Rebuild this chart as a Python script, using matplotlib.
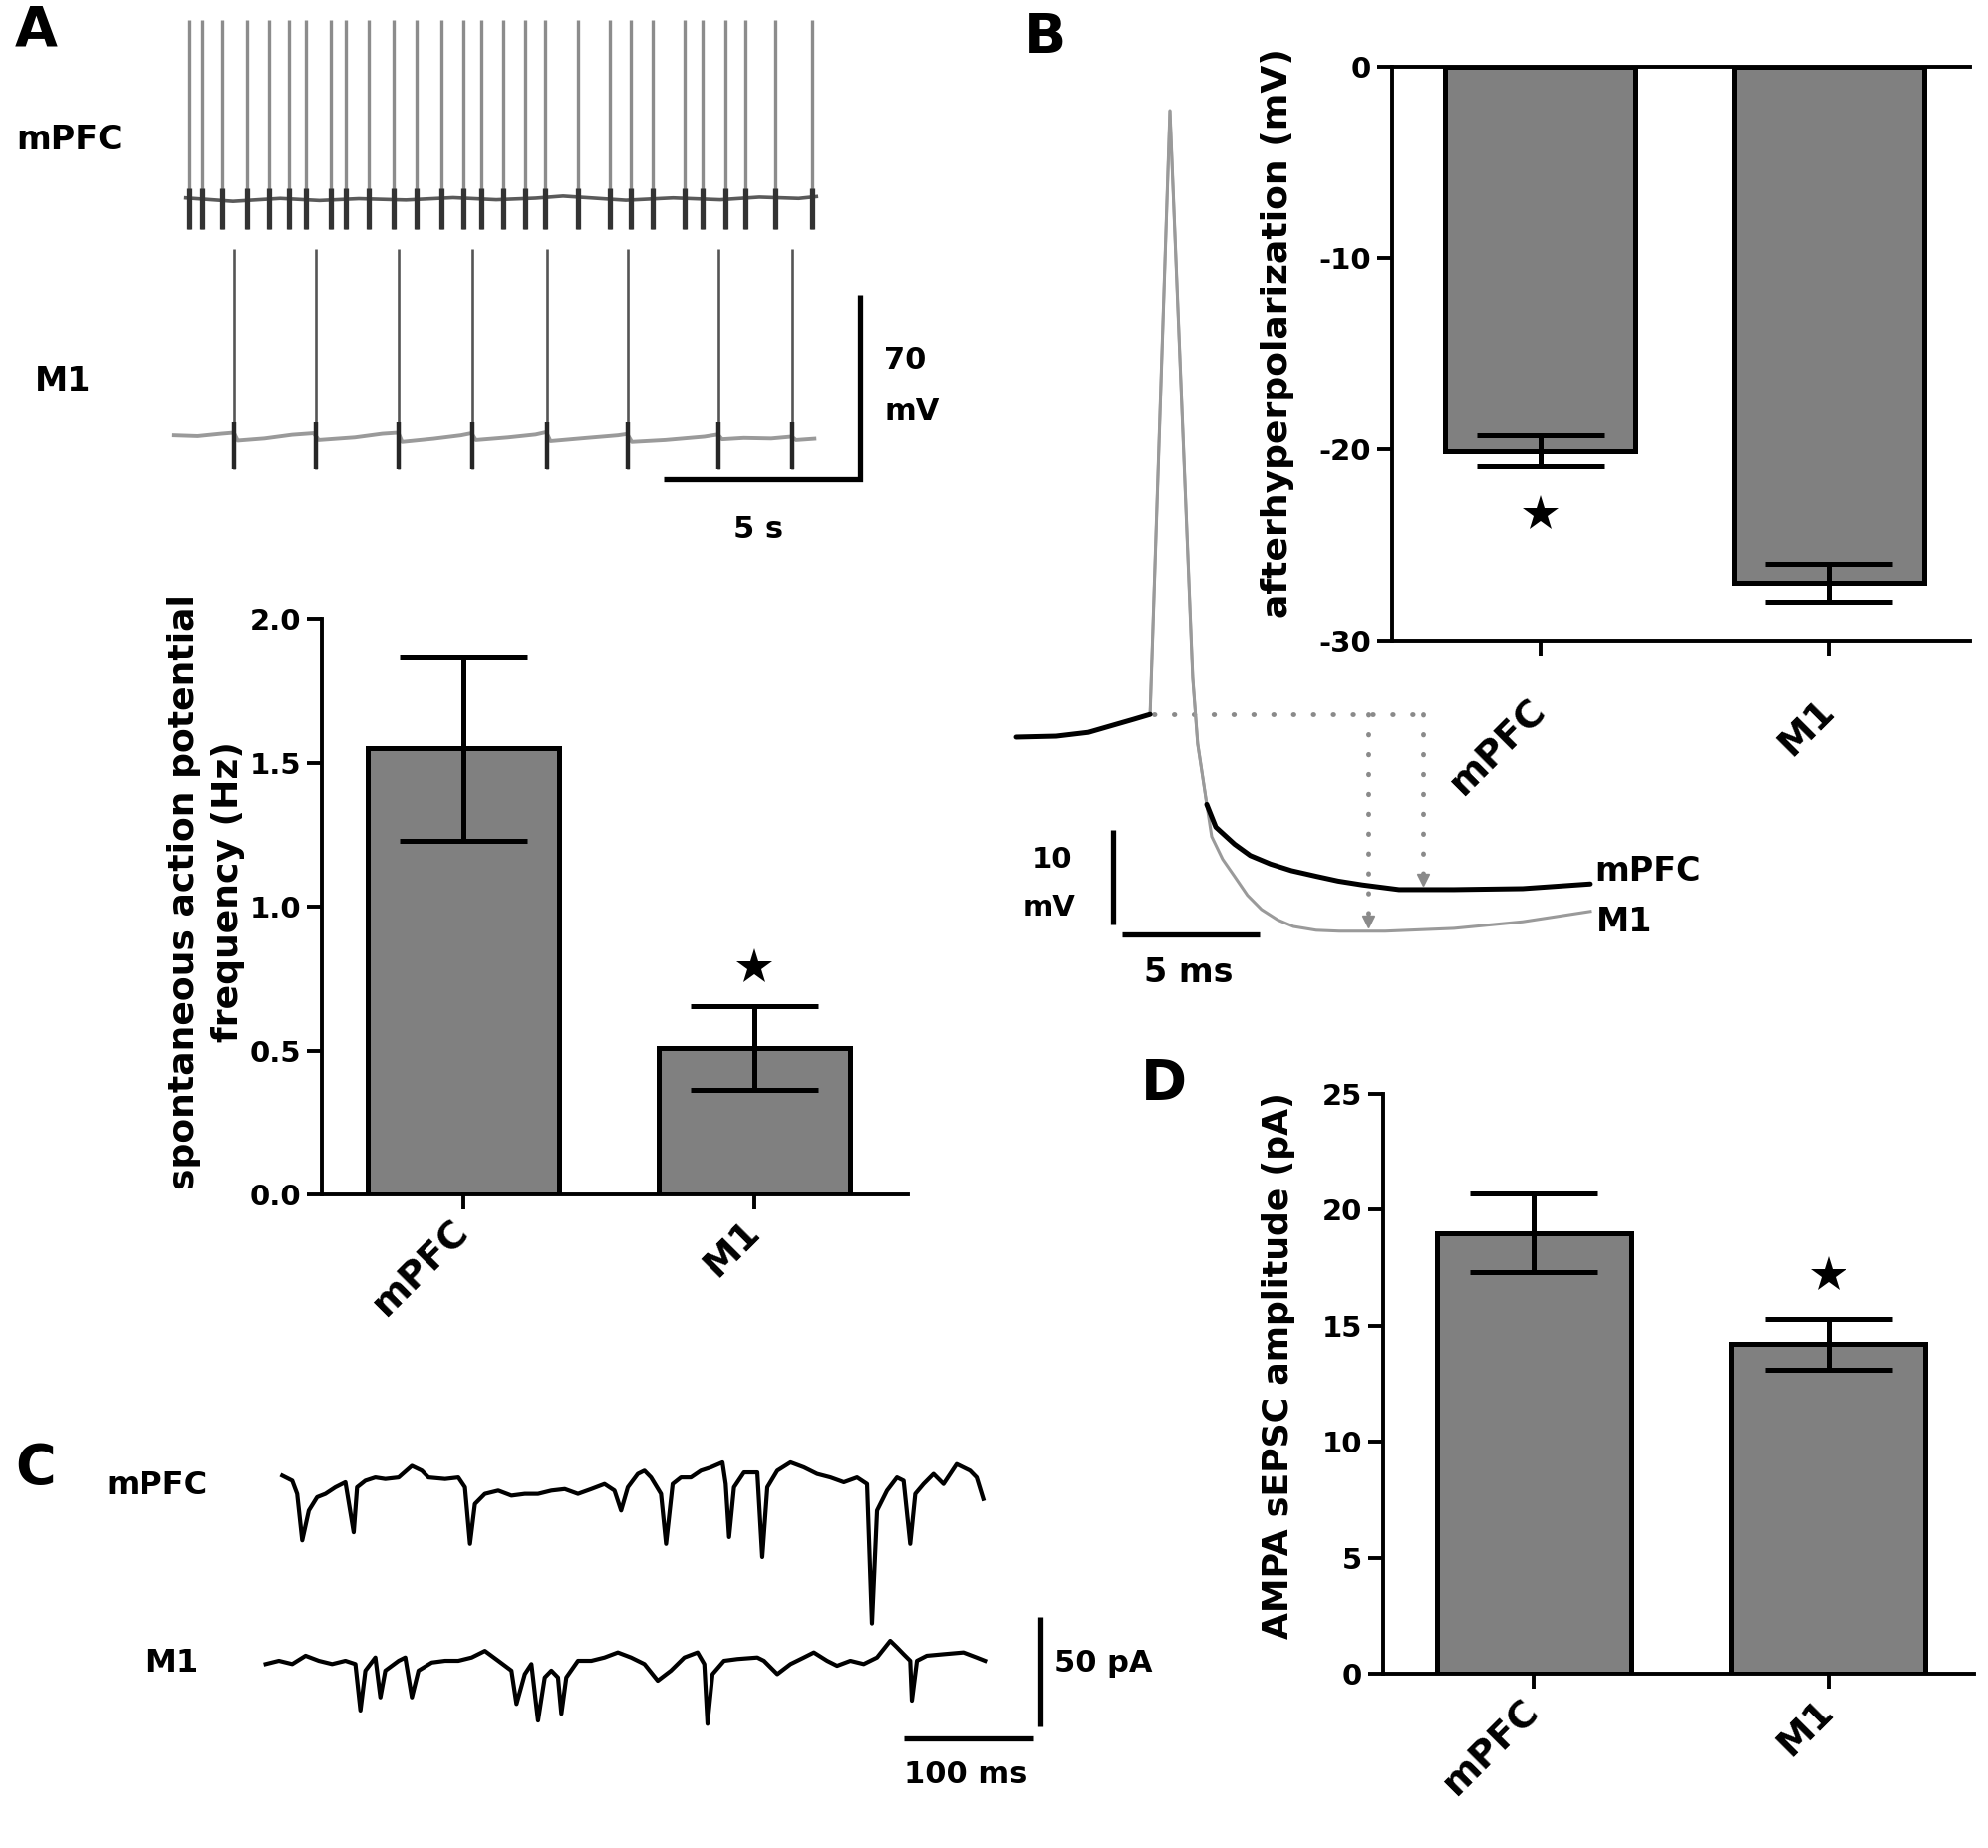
import matplotlib
matplotlib.use("Agg")
import matplotlib.pyplot as plt

W, H = 1995, 1855
DPI = 100
plt.rcParams['font.family'] = ['DejaVu Sans']
plt.rcParams['font.weight'] = 'bold'
plt.rcParams['axes.unicode_minus'] = False

# ---------------------------------------------------------------- data
groups = ["mPFC", "M1"]
bar_x = [0, 1]

# Panel A bar chart: spontaneous AP frequency (Hz)
freq_mean = [1.55, 0.51]
freq_sem = [0.32, 0.145]
freq_ticks = [0.0, 0.5, 1.0, 1.5, 2.0]
freq_ticklabels = ["0.0", "0.5", "1.0", "1.5", "2.0"]
freq_star = 0.79

# Panel B bar chart: afterhyperpolarization (mV)
ahp_mean = [-20.1, -27.0]
ahp_sem = [0.8, 1.0]
ahp_ticks = [0, -10, -20, -30]
ahp_ticklabels = ["0", "-10", "-20", "-30"]
ahp_star = -23.4

# Panel D bar chart: AMPA sEPSC amplitude (pA)
ampa_mean = [19.0, 14.2]
ampa_sem = [1.7, 1.1]
ampa_ticks = [0, 5, 10, 15, 20, 25]
ampa_ticklabels = ["0", "5", "10", "15", "20", "25"]
ampa_star = 17.2

# Panel A traces (time in s, voltage in mV relative to baseline)
mpfc_spike_t = [0.38, 0.71, 1.22, 1.85, 2.41, 2.92, 3.35, 3.98, 4.37, 4.95,
                5.58, 6.17, 6.80, 7.36, 7.82, 8.38, 8.93, 9.44, 10.28, 11.09,
                11.62, 12.18, 12.99, 13.45, 14.04, 14.54, 15.30, 16.24]
mpfc_spike_peak = 68.0
mpfc_spike_trough = -11.3
mpfc_base_t = [0.30, 1.5, 2.7, 3.7, 4.7, 5.9, 7.1, 8.2, 9.2, 9.9, 10.8,
               11.5, 12.7, 13.9, 14.9, 15.9, 16.35]
mpfc_base_v = [0.5, -0.8, 0.3, -0.5, 0.2, -0.3, 0.6, -0.2, 0.4, 1.2, 0.3,
               -0.4, 0.5, -0.2, 0.8, 0.3, 1.0]

m1_spike_t = [1.52, 3.60, 5.71, 7.59, 9.49, 11.55, 13.86, 15.74]
m1_spike_peak = 70.7
m1_spike_trough = -12.9
m1_base_t = [0.0, 0.6, 1.2, 1.52, 1.62, 2.3, 3.0, 3.55, 3.68, 4.6, 5.3, 5.70,
             5.80, 6.6, 7.3, 7.57, 7.68, 8.5, 9.2, 9.47, 9.58, 10.5, 11.3,
             11.53, 11.65, 12.5, 13.5, 13.84, 13.95, 14.5, 15.2, 15.72, 15.83,
             16.3]
m1_base_v = [0.0, -0.3, 0.6, 1.0, -2.0, -1.2, 0.2, 0.8, -1.8, -0.8, 0.6, 1.0,
             -2.5, -1.3, 0.0, 0.8, -1.8, -0.8, 0.3, 1.2, -2.2, -1.0, 0.0,
             0.5, -2.5, -1.8, -0.5, 0.3, -1.5, -1.0, -1.2, -0.5, -1.8, -1.3]

# Panel B traces (time in ms, voltage in mV relative to baseline)
ap_mpfc_t = [0.0, 1.45, 2.61, 4.28, 4.86, 5.58, 6.41, 6.59, 6.92, 7.25, 7.93,
             8.5, 9.24, 10.0, 10.91, 11.7, 12.57, 13.91, 15.91, 18.41, 20.87]
ap_mpfc_v = [0.0, 0.1, 0.5, 1.9, 2.4, 66.2, 6.3, -0.7, -7.1, -9.5, -11.3,
             -12.5, -13.4, -14.1, -14.7, -15.2, -15.6, -16.1, -16.1, -16.0,
             -15.5]
ap_m1_t = [4.86, 5.58, 6.41, 6.59, 6.92, 7.10, 7.5, 7.93, 8.4, 8.91, 9.5,
           10.07, 10.9, 11.74, 13.41, 15.91, 18.41, 20.87]
ap_m1_v = [2.4, 66.2, 6.3, -0.7, -7.1, -10.5, -12.9, -14.7, -16.7, -18.2,
           -19.3, -20.0, -20.4, -20.5, -20.5, -20.2, -19.5, -18.4]
ap_threshold = 2.45
ap_threshold_t = 5.0
ap_m1_min_t, ap_m1_min_v = 12.8, -20.5
ap_mpfc_min_t, ap_mpfc_min_v = 14.8, -16.1

# Panel C traces (time in ms, current in pA relative to baseline)
c_mpfc_t = [6.4, 14.1, 17.9, 21.8, 26.9, 33.3, 39.7, 47.4, 55.1, 61.5, 64.1,
            70.5, 78.2, 85.9, 96.2, 106.4, 114.1, 119.2, 132.1, 142.3, 147.4,
            151.3, 155.1, 162.8, 173.1, 183.3, 193.6, 203.8, 214.1, 224.4,
            234.6, 244.9, 255.1, 262.8, 267.9, 273.1, 280.8, 285.9, 291.0,
            298.7, 302.6, 307.7, 314.1, 321.8, 329.5, 337.2, 346.2, 348.7,
            351.3, 355.1, 362.8, 373.1, 376.9, 380.8, 388.5, 398.7, 409.0,
            419.2, 429.5, 439.8, 450.0, 457.7, 461.5, 465.4, 473.1, 480.8,
            485.9, 491.0, 494.9, 501.3, 509.0, 516.7, 526.9, 537.2, 542.3,
            547.4]
c_mpfc_i = [5.3, 3.0, -3.0, -24.2, -10.6, -4.5, -3.0, 0.0, 2.3, -20.5, 0.0,
            3.0, 4.5, 3.8, 4.5, 9.8, 7.6, 4.5, 3.8, 4.5, 0.0, -25.8, -7.6,
            -3.0, -1.5, -3.8, -3.0, -3.0, -1.5, -0.8, -3.0, -0.8, 1.5, -1.5,
            -10.6, 0.0, 6.1, 7.6, 4.5, -3.0, -25.8, 1.5, 4.5, 4.5, 7.6, 9.1,
            11.4, 1.5, -22.7, 0.0, 6.8, 6.8, -31.8, 0.0, 7.6, 11.4, 9.1, 6.1,
            4.5, 2.3, 4.5, 1.5, -62.1, -10.6, -1.5, 4.5, 3.0, -25.8, -3.0,
            1.5, 6.1, 1.5, 10.6, 7.6, 4.5, -5.3]
c_m1_t = [-6.4, 3.8, 14.1, 24.4, 34.6, 44.9, 55.1, 62.8, 66.7, 70.5, 78.2,
          82.1, 85.9, 96.2, 101.3, 106.4, 111.5, 121.8, 132.1, 142.3, 152.6,
          162.8, 173.1, 183.3, 187.2, 193.6, 198.7, 203.8, 209.0, 214.1,
          219.2, 221.8, 225.6, 234.6, 244.9, 255.1, 265.4, 275.6, 285.9,
          296.2, 306.4, 316.7, 326.9, 332.1, 334.6, 338.5, 347.4, 357.7,
          373.1, 378.2, 388.5, 398.7, 409.0, 416.7, 426.9, 434.6, 444.9,
          455.1, 465.4, 475.6, 480.8, 485.9, 491.0, 492.3, 496.2, 503.8,
          516.7, 532.1, 542.3, 548.7]
c_m1_i = [-1.5, 0.0, -1.5, 2.3, 0.0, -1.5, 0.0, -1.5, -22.7, -4.5, 1.5,
          -16.7, -4.5, 0.0, 1.5, -16.7, -4.5, -0.8, 0.0, 0.0, 1.5, 4.5, 0.0,
          -4.5, -19.7, -6.1, -1.5, -27.3, -7.6, -4.5, -7.6, -24.2, -7.6, 0.0,
          0.0, 1.5, 3.8, 1.5, -1.5, -9.1, -4.5, 1.5, 3.8, -1.5, -28.8, -6.1,
          0.0, 0.8, 1.5, 0.0, -6.1, -1.5, 1.5, 3.8, 0.0, -2.3, 0.0, -1.5, 1.5,
          9.1, 6.1, 3.0, 0.0, -18.2, 0.0, 2.3, 3.0, 3.8, 1.5, 0.0]

# ---------------------------------------------------------------- layout helpers
fig = plt.figure(figsize=(W / DPI, H / DPI), dpi=DPI)
fig.patch.set_facecolor('white')


def px_axes(x0, y0, x1, y1):
    ax = fig.add_axes([x0 / W, 1 - y1 / H, (x1 - x0) / W, (y1 - y0) / H])
    ax.patch.set_alpha(0)
    return ax


def px_text(x, y, s, **kw):
    kw.setdefault('fontweight', 'bold')
    return fig.text(x / W, 1 - y / H, s, **kw)


BAR_GRAY = '#808080'
LW_BAR = 3.6
LW_SPINE = 2.8


def bar_panel(ax, means, sems, ticks, ticklabels, ylim, xlim, star_y, star_idx,
              top_spine=False, xpad=12):
    ax.bar(bar_x, means, width=0.66, color=BAR_GRAY, edgecolor='black',
           linewidth=LW_BAR, zorder=2)
    ax.errorbar(bar_x, means, yerr=sems, fmt='none', ecolor='black',
                elinewidth=LW_BAR, capsize=46, capthick=LW_BAR, zorder=3)
    ax.plot([bar_x[star_idx]], [star_y], marker='*', ms=27, color='black',
            zorder=4, clip_on=False, markeredgewidth=0)
    ax.set_xlim(*xlim)
    ax.set_ylim(*ylim)
    ax.set_yticks(ticks)
    ax.set_yticklabels(ticklabels, fontsize=21, fontweight='bold')
    ax.set_xticks(bar_x)
    ax.set_xticklabels(groups, rotation=45, ha='right', va='center',
                       rotation_mode='anchor', fontsize=27, fontweight='bold')
    for s in ['left', 'bottom', 'top']:
        ax.spines[s].set_linewidth(LW_SPINE)
    ax.spines['right'].set_visible(False)
    ax.spines['top'].set_visible(top_spine)
    ax.tick_params(axis='both', direction='out', length=11, width=LW_SPINE,
                   pad=4)
    ax.tick_params(axis='x', pad=xpad)


# ---------------------------------------------------------------- Panel A traces
axAt = px_axes(150, 0, 960, 620)
axAt.set_xlim(-0.63, 19.92)
axAt.set_ylim(-52.5, 181.8)
axAt.axis('off')
mo, m1o = 106.2, 16.6
axAt.plot(mpfc_base_t, [v + mo for v in mpfc_base_v], color='#5a5a5a', lw=2.6)
axAt.vlines(mpfc_spike_t, mo + mpfc_spike_trough, mo + mpfc_spike_peak,
            color='#8c8c8c', lw=2.4)
axAt.vlines(mpfc_spike_t, mo + mpfc_spike_trough, mo + 4, color='#333333',
            lw=3.8)
axAt.plot(m1_base_t, [v + m1o for v in m1_base_v], color='#9a9a9a', lw=2.8)
axAt.vlines(m1_spike_t, m1o + m1_spike_trough, m1o + m1_spike_peak,
            color='#555555', lw=1.9)
axAt.vlines(m1_spike_t, m1o + m1_spike_trough, m1o + 5, color='#262626',
            lw=3.2)
axAt.plot([12.46, 17.46, 17.46], [0, 0, 70], color='black', lw=3.8,
          solid_joinstyle='miter', solid_capstyle='butt')

px_text(15, 30, 'A', fontsize=40, ha='left', va='center')
px_text(16, 140, 'mPFC', fontsize=24, ha='left', va='center')
px_text(63, 382, 'M1', fontsize=24, ha='center', va='center')
px_text(887, 361, '70', fontsize=22, ha='left', va='center')
px_text(887, 413, 'mV', fontsize=22, ha='left', va='center')
px_text(761, 532, '5 s', fontsize=22, ha='center', va='center')

# ---------------------------------------------------------------- Panel A bars
axA = px_axes(323, 621, 911, 1199)
bar_panel(axA, freq_mean, freq_sem, freq_ticks, freq_ticklabels,
          (0, 2.0), (-0.486, 1.527), freq_star, 1)
px_text(207, 895, 'spontaneous action potential\nfrequency (Hz)', fontsize=26,
        rotation=90, ha='center', va='center', linespacing=1.35)

# ---------------------------------------------------------------- Panel B traces
axBt = px_axes(1000, 80, 1700, 1000)
axBt.set_xlim(-0.725, 24.64)
axBt.set_ylim(-27.37, 69.47)
axBt.axis('off')
dot = dict(color='#8a8a8a', lw=3.5, ls=(0, (0.1, 4)), dash_capstyle='round')
axBt.plot([ap_threshold_t, ap_mpfc_min_t], [ap_threshold, ap_threshold], **dot)
axBt.plot([ap_m1_min_t, ap_m1_min_t], [ap_threshold, ap_m1_min_v + 0.6], **dot)
axBt.plot([ap_mpfc_min_t, ap_mpfc_min_t], [ap_threshold, ap_mpfc_min_v + 0.6],
          **dot)
axBt.plot([ap_m1_min_t, ap_mpfc_min_t], [ap_m1_min_v + 1.0, ap_mpfc_min_v + 1.0],
          ls='none', marker='v', ms=9, color='#8a8a8a')
onset = 4
split = 8
axBt.plot(ap_m1_t, ap_m1_v, color='#9a9a9a', lw=2.2, zorder=2)
axBt.plot(ap_mpfc_t[:onset + 1], ap_mpfc_v[:onset + 1], color='black', lw=3.6,
          solid_capstyle='round', zorder=3)
axBt.plot(ap_mpfc_t[split:], ap_mpfc_v[split:], color='black', lw=3.6,
          solid_capstyle='round', zorder=3)
axBt.plot(ap_mpfc_t[onset:split + 1], ap_mpfc_v[onset:split + 1],
          color='#9a9a9a', lw=2.0, zorder=2)
axBt.plot([3.51, 3.51], [-9.8, -19.8], color='black', lw=3.8,
          solid_capstyle='butt')
axBt.plot([3.84, 8.84], [-20.8, -20.8], color='black', lw=3.8,
          solid_capstyle='butt')

px_text(1028, 38, 'B', fontsize=40, ha='left', va='center')
px_text(1056, 863, '10', fontsize=21, ha='center', va='center')
px_text(1053, 911, 'mV', fontsize=21, ha='center', va='center')
px_text(1193, 976, '5 ms', fontsize=24, ha='center', va='center')
px_text(1600, 874, 'mPFC', fontsize=24, ha='left', va='center')
px_text(1602, 926, 'M1', fontsize=24, ha='left', va='center')

# ---------------------------------------------------------------- Panel B bars
axB = px_axes(1397, 67, 1977, 642.5)
bar_panel(axB, ahp_mean, ahp_sem, ahp_ticks, ahp_ticklabels,
          (-30, 0), (-0.514, 1.49), ahp_star, 0, top_spine=True, xpad=36)
px_text(1282, 334, 'afterhyperpolarization (mV)', fontsize=26, rotation=90,
        ha='center', va='center')

# ---------------------------------------------------------------- Panel C traces
axC = px_axes(250, 1440, 1200, 1810)
axC.set_xlim(-19.2, 711.5)
axC.set_ylim(-65, 103.2)
axC.axis('off')
c_offset = 79.1
axC.plot(c_mpfc_t, [v + c_offset for v in c_mpfc_i], color='black', lw=3.0,
         solid_joinstyle='round')
axC.plot(c_m1_t, c_m1_i, color='black', lw=3.0, solid_joinstyle='round')
axC.plot([591.5, 591.5], [-30, 20], color='black', lw=3.8,
         solid_capstyle='butt')
axC.plot([486, 586], [-35.5, -35.5], color='black', lw=3.8,
         solid_capstyle='butt')

px_text(15, 1474, 'C', fontsize=40, ha='left', va='center')
px_text(157, 1491, 'mPFC', fontsize=23, ha='center', va='center')
px_text(172, 1669, 'M1', fontsize=23, ha='center', va='center')
px_text(1058, 1669, '50 pA', fontsize=22, ha='left', va='center')
px_text(969, 1781, '100 ms', fontsize=22, ha='center', va='center')

# ---------------------------------------------------------------- Panel D bars
axD = px_axes(1388, 1098, 1981, 1680)
bar_panel(axD, ampa_mean, ampa_sem, ampa_ticks, ampa_ticklabels,
          (0, 25), (-0.513, 1.496), ampa_star, 1)
px_text(1283, 1371, 'AMPA sEPSC amplitude (pA)', fontsize=25, rotation=90,
        ha='center', va='center')
px_text(1145, 1088, 'D', fontsize=40, ha='left', va='center')

fig.savefig('out.png', dpi=DPI, facecolor='white')
